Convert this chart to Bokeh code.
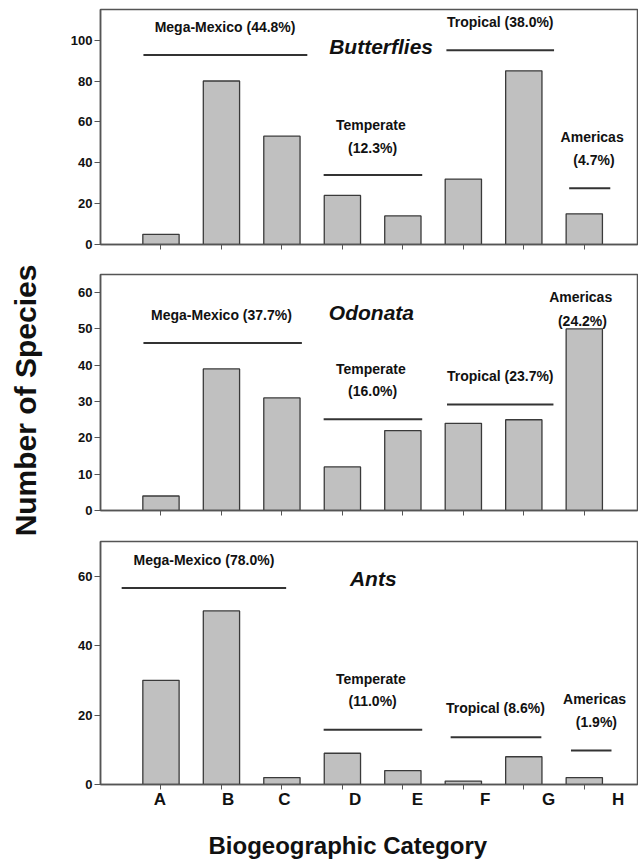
import math
from bokeh.plotting import figure
from bokeh.layouts import column, row
from bokeh.models import ColumnDataSource, FixedTicker, Range1d, LinearAxis, Title
from bokeh.core.properties import value
from bokeh.embed import file_html
from bokeh.resources import INLINE

# ---------------- data ----------------
categories = ["A", "B", "C", "D", "E", "F", "G", "H"]
butterflies = [5, 80, 53, 24, 14, 32, 85, 15]
odonata = [4, 39, 31, 12, 22, 24, 25, 50]
ants = [30, 50, 2, 9, 4, 1, 8, 2]

group_names = ["Mega-Mexico", "Temperate", "Tropical", "Americas"]
butterflies_pct = ["44.8%", "12.3%", "38.0%", "4.7%"]
odonata_pct = ["37.7%", "16.0%", "23.7%", "24.2%"]
ants_pct = ["78.0%", "11.0%", "8.6%", "1.9%"]

panel_titles = ["Butterflies", "Odonata", "Ants"]
y_ticks_butterflies = [0, 20, 40, 60, 80, 100]
y_ticks_odonata = [0, 10, 20, 30, 40, 50, 60]
y_ticks_ants = [0, 20, 40, 60]
x_axis_title = "Biogeographic Category"
y_axis_title = "Number of Species"

# ---------------- layout (positions / styles) ----------------
FONT = "Liberation Sans"
BAR_FILL = "#c0c0c0"
EDGE = "#3a3a3a"
FRAME = "#555555"
INK = "#111111"
LABEL_W = 50          # strip holding the shared y-axis title
W = 588
X_MAX = 8.88
BAR_W = 0.6
label_shift = [-0.02, 0.11, 0.04, 0.21, 0.24, 0.36, 0.41, 0.56]

panels = [
    dict(vals=butterflies, pct=butterflies_pct, title=panel_titles[0], ymax=115,
         yticks=y_ticks_butterflies, height=259, top=9, bottom=15,
         title_xy=(4.64, 96.8),
         lines=[(0.71, 3.42, 92.7), (3.69, 5.32, 34.0), (5.72, 7.50, 95.1), (7.75, 8.43, 27.5)],
         labs=[("one", 2.06, 106.5), ("two", 4.49, 58.5, 47.2), ("one", 6.61, 109.0),
               ("two", 8.15, 52.6, 41.2)]),
    dict(vals=odonata, pct=odonata_pct, title=panel_titles[1], ymax=65,
         yticks=y_ticks_odonata, height=266, top=15, bottom=15,
         title_xy=(4.48, 54.6),
         lines=[(0.71, 3.33, 46.1), (3.69, 5.32, 25.1), (5.73, 7.49, 29.2), None],
         labs=[("one", 2.0, 53.9), ("two", 4.49, 39.0, 32.9), ("one", 6.61, 37.1),
               ("two", 7.96, 58.8, 52.3)]),
    dict(vals=ants, pct=ants_pct, title=panel_titles[2], ymax=70,
         yticks=y_ticks_ants, height=335, top=16, bottom=74,
         title_xy=(4.51, 59.2),
         lines=[(0.35, 3.07, 56.6), (3.69, 5.32, 15.8), (5.79, 7.29, 13.6), (7.78, 8.45, 9.8)],
         labs=[("one", 1.71, 64.8), ("two", 4.49, 30.4, 24.1), ("one", 6.53, 21.9),
               ("two", 8.19, 24.5, 18.1)]),
]
TOTAL_H = sum(pn["height"] for pn in panels)

figs = []
xs = list(range(1, len(categories) + 1))
for i, pn in enumerate(panels):
    p = figure(width=W, height=pn["height"], output_backend="svg", toolbar_location=None,
               x_range=Range1d(0, X_MAX), y_range=Range1d(0, pn["ymax"]),
               min_border_left=50, min_border_right=1,
               min_border_top=pn["top"], min_border_bottom=pn["bottom"])
    p.grid.visible = False
    p.outline_line_color = FRAME
    p.outline_line_width = 1.5
    p.background_fill_color = "white"
    p.border_fill_color = "white"

    src = ColumnDataSource(dict(x=xs, top=pn["vals"], cat=categories))
    p.vbar(x="x", top="top", bottom=0, width=BAR_W, source=src,
           fill_color=BAR_FILL, line_color=EDGE, line_width=1.3)

    lx0, lx1, ly = [], [], []
    for ln in pn["lines"]:
        if ln is not None:
            lx0.append(ln[0]); lx1.append(ln[1]); ly.append(ln[2])
    p.segment(x0=lx0, y0=ly, x1=lx1, y1=ly, line_color="#333333", line_width=2)

    tx, ty, tt = [], [], []
    for name, pct, lab in zip(group_names, pn["pct"], pn["labs"]):
        if lab[0] == "one":
            tx.append(lab[1]); ty.append(lab[2]); tt.append(f"{name} ({pct})")
        else:
            tx.append(lab[1] - 0.02); ty.append(lab[2]); tt.append(name)
            tx.append(lab[1] + 0.01); ty.append(lab[3]); tt.append(f"({pct})")
    p.text(x=tx, y=ty, text=tt, text_font=value(FONT), text_font_style="bold",
           text_font_size="14px", text_align="center", text_baseline="middle",
           text_color=INK)

    p.text(x=[pn["title_xy"][0]], y=[pn["title_xy"][1]], text=[pn["title"]],
           text_font=value(FONT), text_font_style="bold italic", text_font_size="21px",
           text_align="center", text_baseline="middle", text_color=INK)

    p.yaxis.ticker = FixedTicker(ticks=pn["yticks"])
    p.yaxis.minor_tick_line_color = None
    p.yaxis.major_tick_in = 0
    p.yaxis.major_tick_out = 6
    p.yaxis.major_label_standoff = 2
    p.yaxis.major_label_text_font = FONT
    p.yaxis.major_label_text_font_style = "bold"
    p.yaxis.major_label_text_font_size = "13px"
    p.yaxis.major_label_text_color = INK
    p.yaxis.axis_line_color = FRAME
    p.yaxis.axis_line_width = 1.5
    p.yaxis.major_tick_line_color = FRAME

    p.xaxis.ticker = FixedTicker(ticks=xs)
    p.xaxis.minor_tick_line_color = None
    p.xaxis.major_tick_in = 0
    p.xaxis.major_tick_out = 5
    p.xaxis.major_label_text_font_size = "1px"
    p.xaxis.major_label_text_color = None
    p.xaxis.major_label_standoff = 0
    p.xaxis.axis_line_color = FRAME
    p.xaxis.axis_line_width = 1.5
    p.xaxis.major_tick_line_color = FRAME

    figs.append(p)

bot = figs[2]
letter_pos = [round(x + s, 2) for x, s in zip(xs, label_shift)]
letter_axis = LinearAxis(
    ticker=FixedTicker(ticks=letter_pos),
    major_label_overrides={pos: cat for pos, cat in zip(letter_pos, categories)},
    axis_line_color=None, major_tick_line_color=None, minor_tick_line_color=None,
    major_label_standoff=-6, major_label_text_font=FONT, major_label_text_font_style="bold",
    major_label_text_font_size="17px", major_label_text_color=INK,
    axis_label="\u00a0", axis_label_text_font_size="1px", axis_label_standoff=16)
bot.add_layout(letter_axis, "below")
bot.add_layout(Title(text=x_axis_title, align="left", offset=108, standoff=0,
                     vertical_align="top", text_font=FONT, text_font_style="bold",
                     text_font_size="24px", text_color=INK), "below")

# shared y-axis title in its own strip on the left
lab = figure(width=LABEL_W, height=TOTAL_H, output_backend="svg", toolbar_location=None,
             x_range=Range1d(0, LABEL_W), y_range=Range1d(0, TOTAL_H),
             x_axis_type=None, y_axis_type=None, min_border=0)
lab.grid.visible = False
lab.outline_line_color = None
lab.border_fill_color = "white"
lab.text(x=[25], y=[TOTAL_H - 400], text=[y_axis_title], angle=math.pi / 2,
         text_font=value(FONT), text_font_style="bold", text_font_size="30px",
         text_align="center", text_baseline="middle", text_color=INK)

layout = row(lab, column(*figs, spacing=0), spacing=0)
open("out.html", "w").write(file_html(layout, INLINE))
